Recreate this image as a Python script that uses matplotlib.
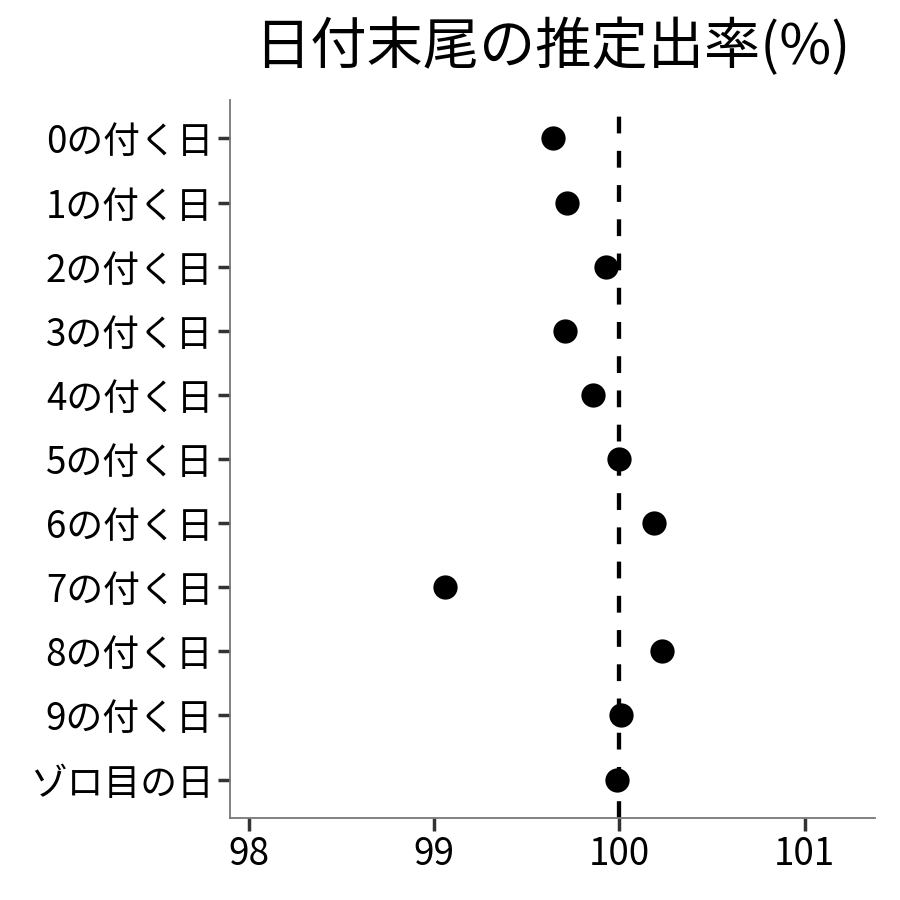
import matplotlib
matplotlib.use("Agg")
import matplotlib.pyplot as plt

plt.rcParams['font.family'] = ['Noto Sans CJK JP', 'DejaVu Sans']

categories = ["0の付く日", "1の付く日", "2の付く日", "3の付く日", "4の付く日",
              "5の付く日", "6の付く日", "7の付く日", "8の付く日", "9の付く日", "ゾロ目の日"]
values = [99.64, 99.72, 99.93, 99.71, 99.86, 100.00, 100.19, 99.06, 100.23, 100.01, 99.99]
xticks = [98, 99, 100, 101]
title = "日付末尾の推定出率(%)"

fig = plt.figure(figsize=(9, 9), dpi=100)
ax = fig.add_axes([0.2556, 0.0911, 0.9722 - 0.2556, 0.8889 - 0.0911])

n = len(categories)
ypos = list(range(n))[::-1]
ax.axvline(100, color='black', linestyle=(0, (3.9, 4.05)), linewidth=3.1, zorder=1)
ax.scatter(values, ypos, s=305, color='black', zorder=3, linewidths=0)

ax.set_xlim(97.90, 101.38)
ax.set_ylim(-0.6, n - 1 + 0.6)
ax.set_xticks(xticks)
ax.set_xticklabels([str(t) for t in xticks])
ax.set_yticks(ypos)
ax.set_yticklabels(categories)

for s in ['top', 'right']:
    ax.spines[s].set_visible(False)
for s in ['left', 'bottom']:
    ax.spines[s].set_color('#777777')
    ax.spines[s].set_linewidth(1.3)

ax.tick_params(axis='both', length=9, width=2.5, color='#333333', labelsize=26.5, labelcolor='black', pad=3)
ax.set_title(title, fontsize=40.5, pad=26)

fig.savefig("out.png", dpi=100)
